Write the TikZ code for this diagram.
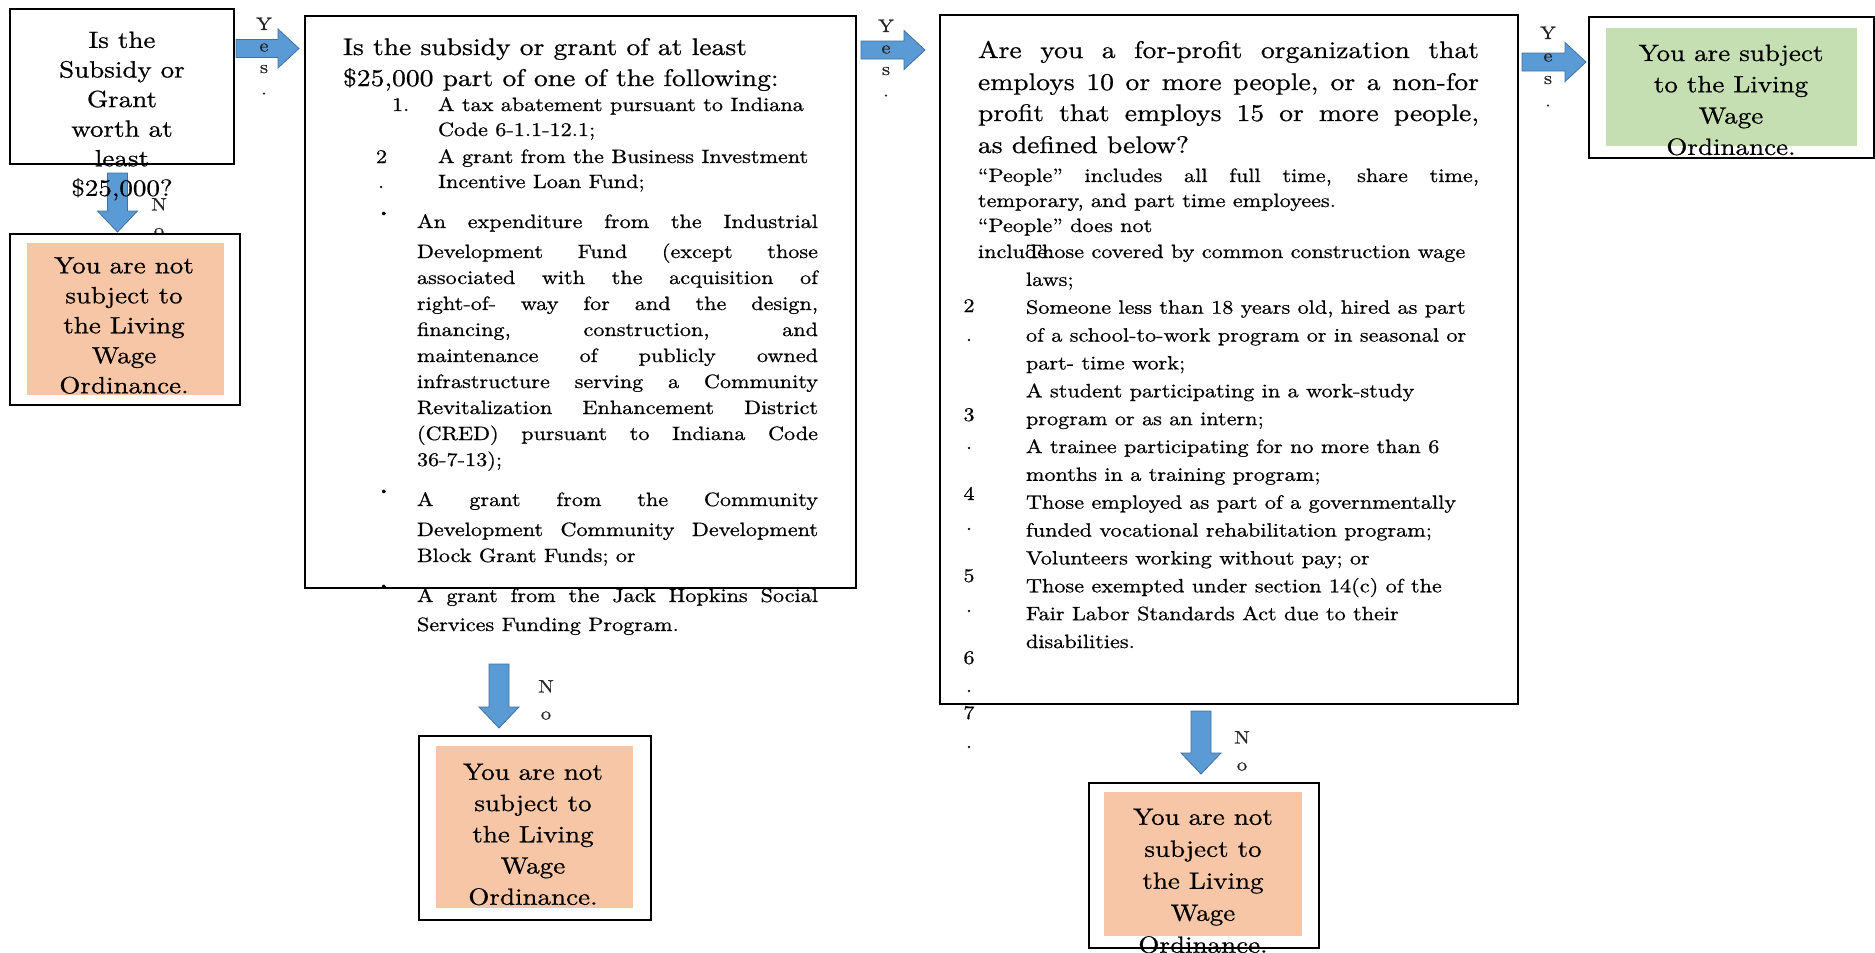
\documentclass[tikz,border=0pt]{standalone}
\usepackage{fontspec}
\setmainfont{lmroman10-regular.otf}[FakeStretch=1.15,FakeBold=0.7]
\definecolor{arrowfill}{HTML}{5B9BD5}
\definecolor{arrowline}{HTML}{41719C}
\definecolor{notfill}{HTML}{F6C6A6}
\definecolor{yesfill}{HTML}{C5DFB2}
\newcommand\bigfont{\fontsize{24}{31}\selectfont}
\newcommand\smallfont{\fontsize{19.3}{26}\selectfont}
\newcommand\resfont{\fontsize{23.5}{30}\selectfont}
\newcommand\J[2]{\makebox[#1][s]{#2}}
\newcommand\rarrow[4]{% name, x1, x2, y
  \coordinate (#1s) at (#2,#4);
  \coordinate (#1e) at (#3,#4);
  \filldraw[blockarrow] (#2,#4-9) -- (#3-21,#4-9) -- (#3-21,#4-19.5) -- (#1e)
    -- (#3-21,#4+19.5) -- (#3-21,#4+9) -- (#2,#4+9) -- cycle;}
\newcommand\darrow[4]{% name, x, y1, y2
  \coordinate (#1s) at (#2,#3);
  \coordinate (#1e) at (#2,#4);
  \filldraw[blockarrow] (#2-10,#3) -- (#2+10,#3) -- (#2+10,#4-21) -- (#2+20,#4-21) -- (#1e)
    -- (#2-20,#4-21) -- (#2-10,#4-21) -- cycle;}
\tikzset{
  frame/.style={draw=black, line width=1.6pt, fill=white, inner sep=0pt, anchor=north west},
  inner/.style={inner sep=0pt, anchor=north west},
  blockarrow/.style={fill=arrowfill, draw=arrowline, line width=0.8pt},
  txt/.style={inner sep=0pt, outer sep=0pt, anchor=base west, font=\smallfont},
  ttl/.style={inner sep=0pt, outer sep=0pt, anchor=base west, font=\bigfont},
  res/.style={inner sep=0pt, align=center, font=\resfont},
  lab/.style={inner sep=0pt, anchor=north, align=center, text=black!85},
  num/.style={inner sep=0pt, anchor=base, font=\smallfont},
  bul/.style={inner sep=0pt, font=\fontsize{12}{12}\selectfont},
}
\begin{document}
\begin{tikzpicture}[x=1pt,y=-1pt]
\useasboundingbox (0,0) rectangle (1875,953);
\fill[white] (0,0) rectangle (1875,953);

% question boxes
\node[frame, minimum width=224pt, minimum height=155pt] (q1) at (9,8) {};
\node[frame, minimum width=551pt, minimum height=572pt] (q2) at (304,15) {};
\node[frame, minimum width=578pt, minimum height=689pt] (q3) at (939,14) {};

% arrows
\rarrow{ya}{236}{299}{48.5}
\rarrow{yb}{861}{925}{50}
\rarrow{yc}{1522}{1586}{62}
\darrow{na}{117.5}{173}{232}
\darrow{nb}{499}{664}{728}
\darrow{nc}{1201}{711}{774}

% yes / no labels
\node[lab, font=\fontsize{18}{21.5}\selectfont] (lya) at (264,17.5) {Y\\e\\s\\.};
\node[lab, font=\fontsize{18}{21.5}\selectfont] (lyb) at (886,19.5) {Y\\e\\s\\.};
\node[lab, font=\fontsize{18}{22.5}\selectfont] (lyc) at (1548,26.5) {Y\\e\\s\\.};
\node[lab, font=\fontsize{18}{25.5}\selectfont] (lna) at (159,198) {N\\o\\.};
\node[lab, font=\fontsize{18}{27}\selectfont] (lnb) at (546,680) {N\\o\\.};
\node[lab, font=\fontsize{18}{27}\selectfont] (lnc) at (1242,731) {N\\o\\.};

% box 1 text
\node[res, font=\fontsize{23.5}{29.6}\selectfont] (q1t) at (122,116)
  {Is the\\Subsidy or\\Grant\\worth at\\least\\\$25,000?};

% box 2 text
\node[ttl] (q2t1) at (343,55) {Is the subsidy or grant of at least};
\node[ttl] (q2t2) at (343,86) {\$25,000 part of one of the following:};
\node[txt] (q2n1) at (392,111) {1.};
\node[txt] (q2i1a) at (438,111) {A tax abatement pursuant to Indiana};
\node[txt] (q2i1b) at (438,136) {Code 6-1.1-12.1;};
\node[txt] (q2n2) at (376,163) {2};
\node[txt] (q2n2d) at (378,188) {.};
\node[txt] (q2i2a) at (438,163) {A grant from the Business Investment};
\node[txt] (q2i2b) at (438,188) {Incentive Loan Fund;};
\node[bul] (q2b1) at (384,214) {\textbullet};
\node[txt] (q2l1) at (417,228) {\J{401pt}{An expenditure from the Industrial}};
\foreach \t [count=\k] in {
  {\J{401pt}{Development Fund (except those}},
  {\J{401pt}{associated with the acquisition of}},
  {\J{401pt}{right-of- way for and the design,}},
  {\J{401pt}{financing, construction, and}},
  {\J{401pt}{maintenance of publicly owned}},
  {\J{401pt}{infrastructure serving a Community}},
  {\J{401pt}{Revitalization Enhancement District}},
  {\J{401pt}{(CRED) pursuant to Indiana Code}},
  {36-7-13);}}
  \node[txt] (q2m\k) at (417,{232+\k*26}) {\t};
\node[bul] (q2b2) at (384,492) {\textbullet};
\node[txt] (q2p1) at (417,506) {\J{401pt}{A grant from the Community}};
\node[txt] (q2p2) at (417,536) {\J{401pt}{Development Community Development}};
\node[txt] (q2p3) at (417,562) {Block Grant Funds; or};
\node[bul] (q2b3) at (384,587) {\textbullet};
\node[txt] (q2r1) at (417,602) {\J{401pt}{A grant from the Jack Hopkins Social}};
\node[txt] (q2r2) at (417,631) {Services Funding Program.};

% box 3 text
\node[ttl] (q3t1) at (978,58) {\J{501pt}{Are you a for-profit organization that}};
\node[ttl] (q3t2) at (978,90) {\J{501pt}{employs 10 or more people, or a non-for}};
\node[ttl] (q3t3) at (978,121) {\J{501pt}{profit that employs 15 or more people,}};
\node[ttl] (q3t4) at (978,153) {as defined below?};
\node[txt] (q3p1) at (978,182) {\J{501pt}{“People” includes all full time, share time,}};
\node[txt] (q3p2) at (978,207) {temporary, and part time employees.};
\node[txt] (q3p3) at (978,232) {“People” does not};
\node[txt] (q3p4) at (978,258) {include:};
\node[txt] (q3l0) at (1026,258) {Those covered by common construction wage};
\foreach \t [count=\k] in {
  {laws;},
  {Someone less than 18 years old, hired as part},
  {of a school-to-work program or in seasonal or},
  {part- time work;},
  {A student participating in a work-study},
  {program or as an intern;},
  {A trainee participating for no more than 6},
  {months in a training program;},
  {Those employed as part of a governmentally},
  {funded vocational rehabilitation program;},
  {Volunteers working without pay; or},
  {Those exempted under section 14(c) of the},
  {Fair Labor Standards Act due to their},
  {disabilities.}}
  \node[txt] (q3l\k) at (1026,{258+\k*27.86}) {\t};
\node[num] (q3n2) at (969,312) {2};
\node[num] (q3d2) at (969,341) {.};
\node[num] (q3n3) at (969,421) {3};
\node[num] (q3d3) at (969,449) {.};
\node[num] (q3n4) at (969,500) {4};
\node[num] (q3d4) at (969,530) {.};
\node[num] (q3n5) at (969,582) {5};
\node[num] (q3d5) at (969,612) {.};
\node[num] (q3n6) at (969,664) {6};
\node[num] (q3d6) at (969,692) {.};
\node[num] (q3n7) at (969,719) {7};
\node[num] (q3d7) at (969,748) {.};

% result boxes
\node[frame, minimum width=230pt, minimum height=171pt] (r1) at (9,233) {};
\node[inner, fill=notfill, minimum width=197pt, minimum height=152pt] (r1f) at (27,243) {};
\node[res] (r1t) at (124,325.5) {You are not\\subject to\\the Living\\Wage\\Ordinance.};

\node[frame, minimum width=232pt, minimum height=184pt] (r2) at (418,735) {};
\node[inner, fill=notfill, minimum width=197pt, minimum height=162pt] (r2f) at (436,746) {};
\node[res, font=\fontsize{23.5}{31.25}\selectfont] (r2t) at (533,834.5) {You are not\\subject to\\the Living\\Wage\\Ordinance.};

\node[frame, minimum width=230pt, minimum height=165pt] (r3) at (1088,782) {};
\node[inner, fill=notfill, minimum width=198pt, minimum height=144pt] (r3f) at (1104,792) {};
\node[res, font=\fontsize{23.5}{32}\selectfont] (r3t) at (1203,881) {You are not\\subject to\\the Living\\Wage\\Ordinance.};

\node[frame, minimum width=285pt, minimum height=141pt] (r4) at (1588,16) {};
\node[inner, fill=yesfill, minimum width=251pt, minimum height=118pt] (r4f) at (1606,28) {};
\node[res, font=\fontsize{23.5}{31.3}\selectfont] (r4t) at (1731,100) {You are subject\\to the Living\\Wage\\Ordinance.};
\end{tikzpicture}
\end{document}
